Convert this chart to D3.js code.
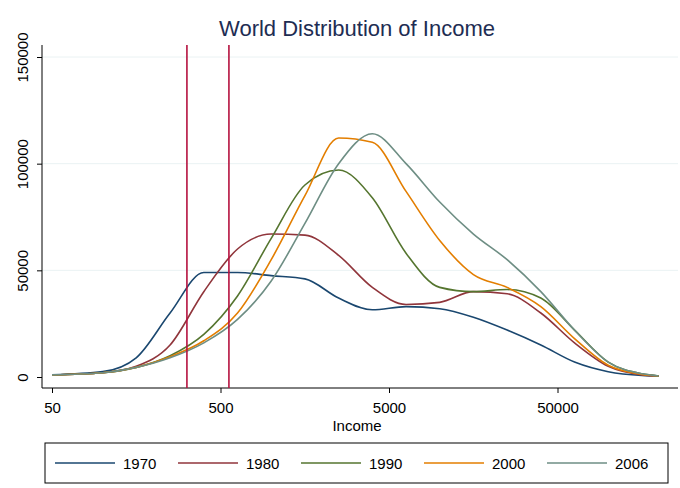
<!DOCTYPE html>
<html><head><meta charset="utf-8">
<script src="https://cdn.jsdelivr.net/npm/d3@7"></script>
<style>body{margin:0;background:#fff;font-family:"Liberation Sans",Arial,sans-serif}</style>
</head><body><svg id="c" width="680" height="488"></svg>
<script>
var income = [50,100,158,251,398,631,1000,1585,2512,3981,6310,10000,15849,25119,39811,63096,100000,158489,199526]
var years = ["1970","1980","1990","2000","2006"]
var colors = ["#1a476f","#90353b","#55752f","#e37e00","#6e8e84"]
var d1970 = [1000,2500,9000,30000,49000,49000,47500,46000,37000,31500,33000,32000,28000,22000,15000,7000,2500,700,400]
var d1980 = [1000,2000,5000,15000,40000,60000,67000,66500,57000,42000,34000,35000,40000,39000,30000,16000,5000,1000,500]
var d1990 = [1000,2000,4500,10000,20000,38000,65000,90000,97000,84000,58000,42000,40000,41000,37000,22000,7000,1500,500]
var d2000 = [1000,2000,4500,9500,17000,30000,55000,85000,112000,110000,87000,64000,48000,42000,33000,18000,5500,1200,500]
var d2006 = [1000,2000,4500,9000,16000,27000,45000,72000,100000,114000,100000,82000,67000,55000,40000,22000,7000,1500,500]
var series = [d1970,d1980,d1990,d2000,d2006]
var xTicks = [50,500,5000,50000]
var yTicks = [0,50000,100000,150000]
var vlines = [316,561]

var svg = d3.select("#c")
var x = d3.scaleLog().domain([50,50*Math.pow(10,626/168.5)]).range([52,678])
var y = d3.scaleLinear().domain([0,150000]).range([377,57])

svg.append("text").attr("x",357).attr("y",36).attr("text-anchor","middle")
  .attr("font-size",22).attr("fill","#1e2d53").text("World Distribution of Income")

yTicks.slice(1).forEach(function(t){
  svg.append("line").attr("x1",42).attr("x2",678).attr("y1",y(t)).attr("y2",y(t)).attr("stroke","#eaf2f3")
})

var gy = svg.append("g").attr("transform","translate(42,0)")
  .call(d3.axisLeft(y).tickValues(yTicks).tickSize(5).tickFormat(d3.format("d")))
gy.select(".domain").attr("d","M0,45V388")
gy.selectAll("text").attr("font-size",15).attr("fill","#000")
  .attr("x",0).attr("y",0).attr("dy",0)
  .attr("transform","translate(-14,0) rotate(-90)").attr("text-anchor","middle")

var gx = svg.append("g").attr("transform","translate(0,388)")
  .call(d3.axisBottom(x).tickValues(xTicks).tickSize(5).tickFormat(d3.format("d")))
gx.select(".domain").attr("d","M42,0H678")
gx.selectAll("text").attr("font-size",15).attr("fill","#000").attr("dy","1.1em")
svg.append("text").attr("x",357).attr("y",431).attr("text-anchor","middle").attr("font-size",15).text("Income")

var line = d3.line().x(function(d,i){return x(income[i])}).y(function(d){return y(d)}).curve(d3.curveMonotoneX)
series.forEach(function(s,i){
  svg.append("path").datum(s).attr("d",line).attr("fill","none").attr("stroke",colors[i]).attr("stroke-width",1.6)
})

vlines.forEach(function(v){
  svg.append("line").attr("x1",x(v)).attr("x2",x(v)).attr("y1",45).attr("y2",388).attr("stroke","#b5123f").attr("stroke-width",1.6)
})

svg.append("rect").attr("x",45).attr("y",443).attr("width",623).attr("height",40).attr("fill","#fff").attr("stroke","#000")
years.forEach(function(yr,i){
  var lx = 55 + i*123
  svg.append("line").attr("x1",lx).attr("x2",lx+60).attr("y1",463).attr("y2",463).attr("stroke",colors[i]).attr("stroke-width",1.6)
  svg.append("text").attr("x",lx+68).attr("y",469).attr("font-size",15).text(yr)
})
</script></body></html>
